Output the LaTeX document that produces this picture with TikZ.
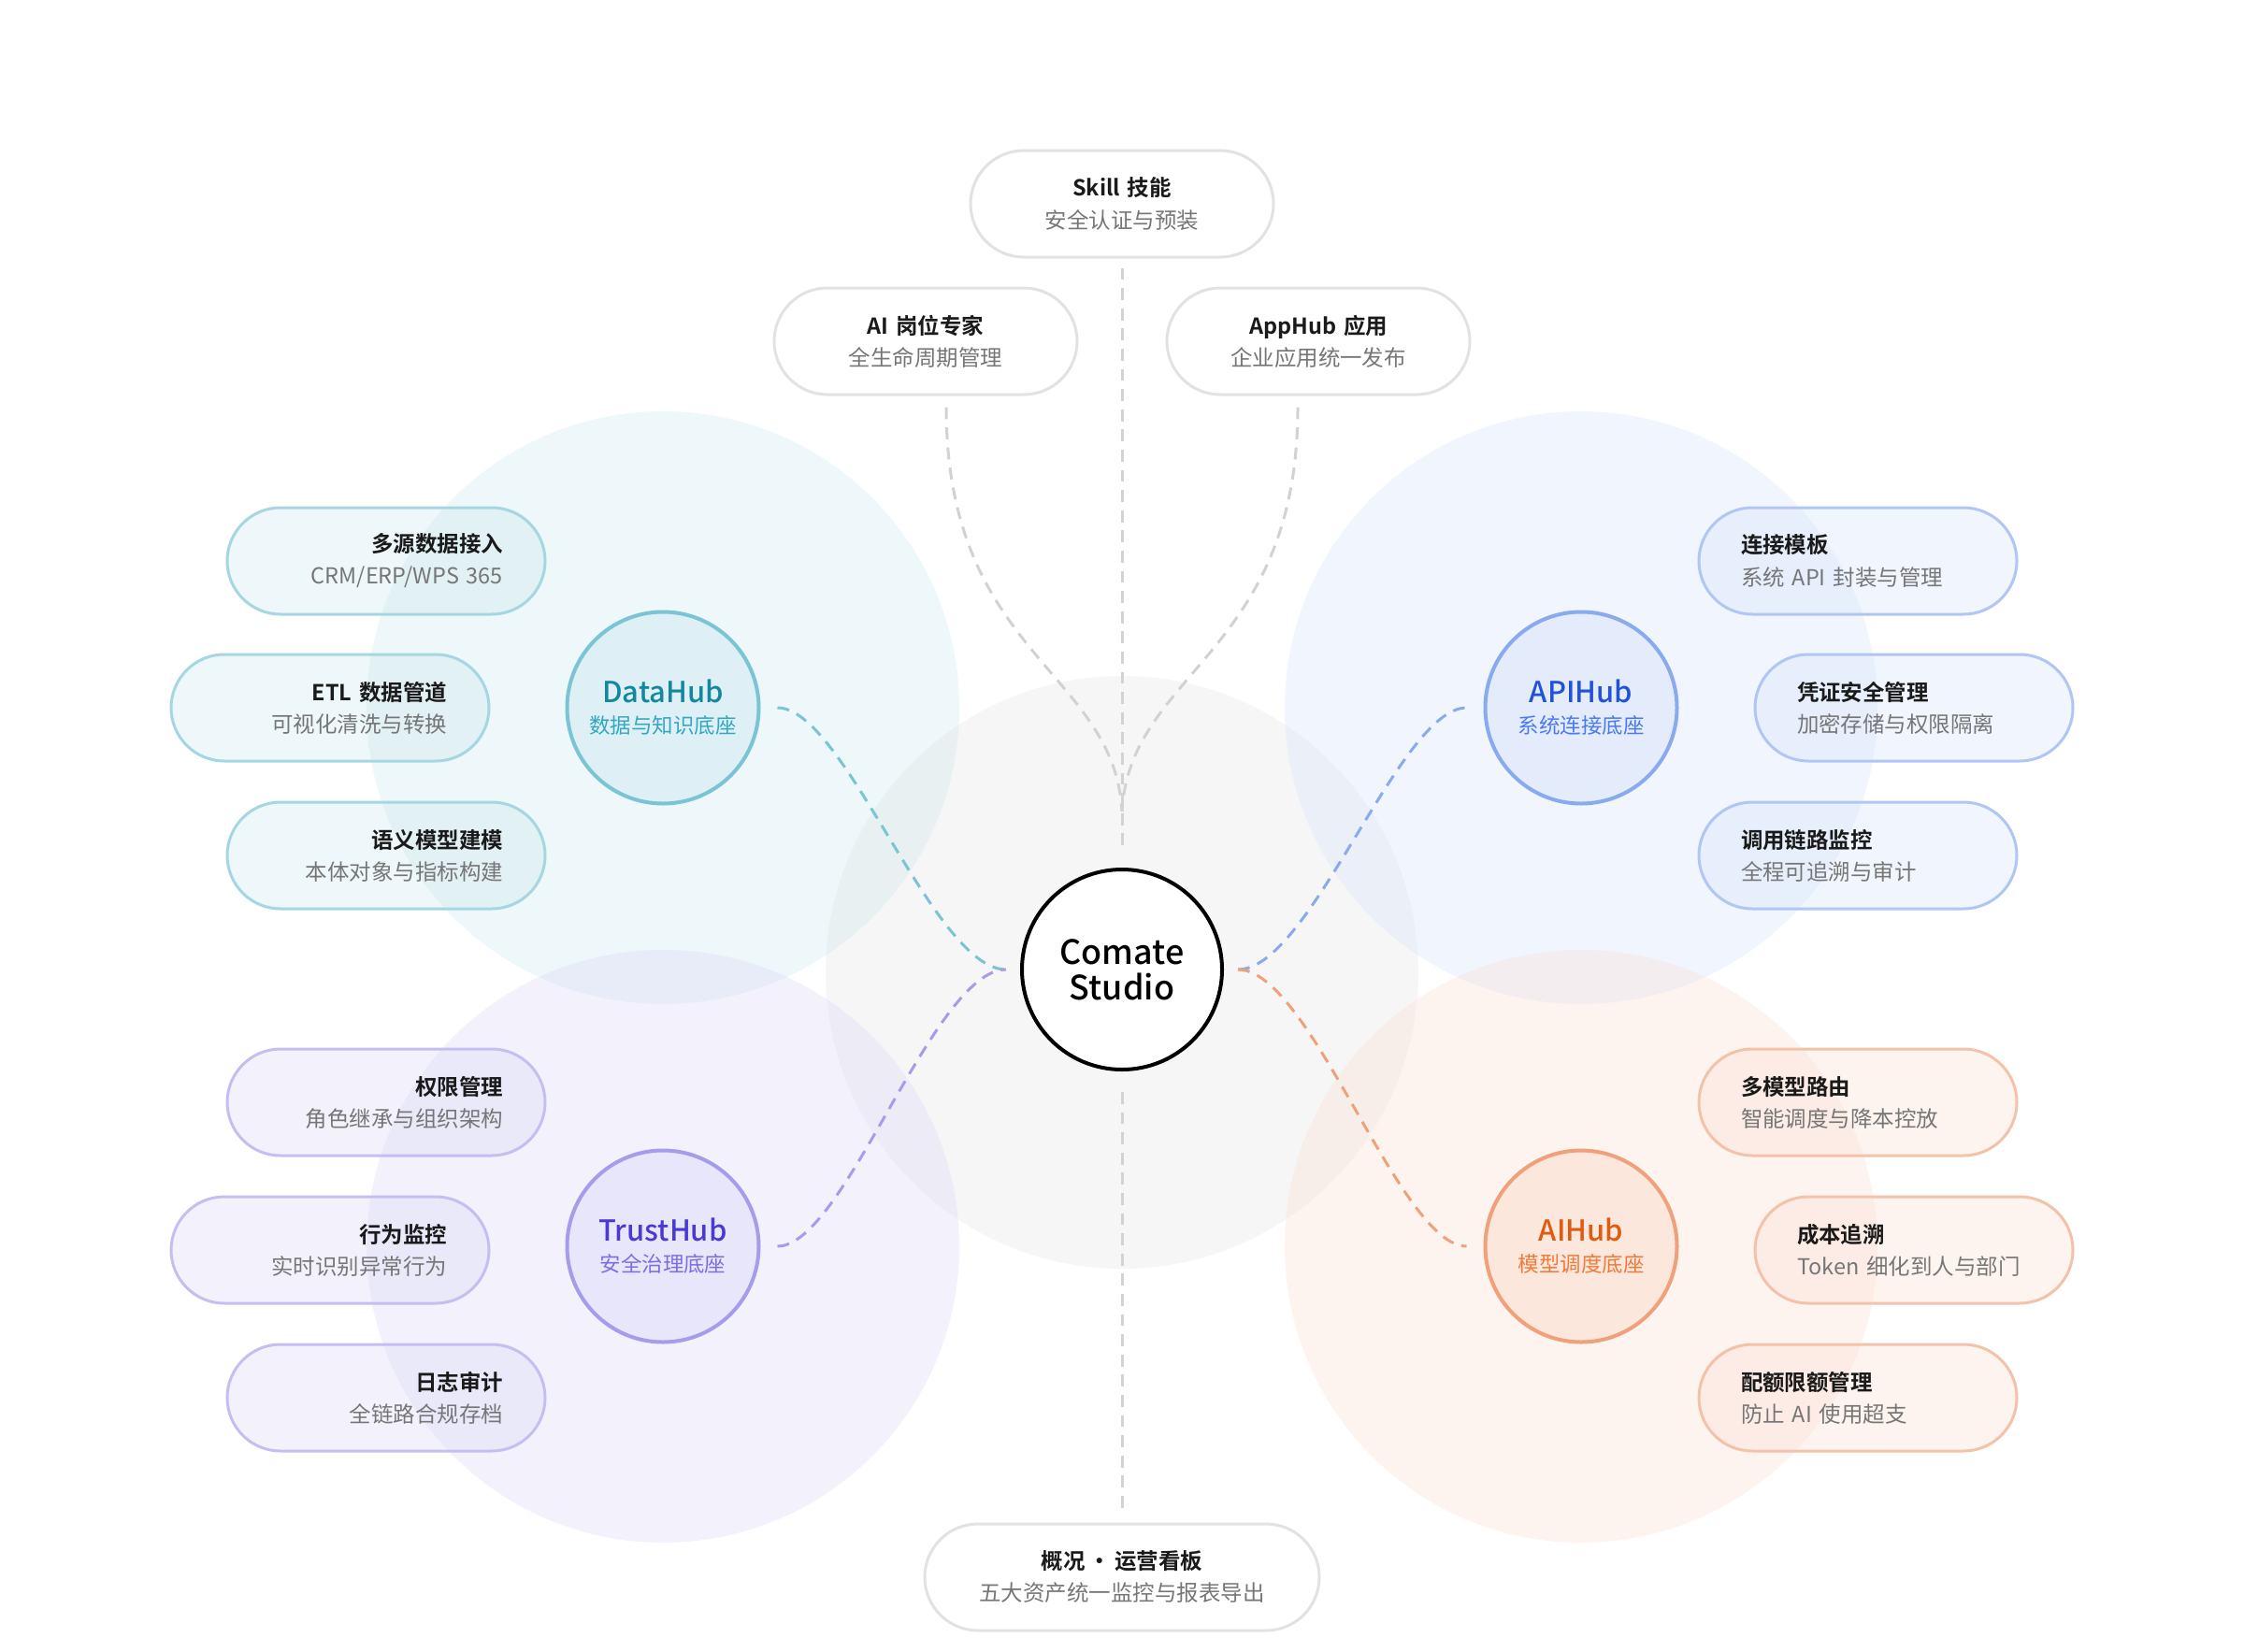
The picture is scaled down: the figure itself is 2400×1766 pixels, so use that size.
\documentclass[tikz,border=0pt]{standalone}
\usepackage{fontspec}
\setmainfont{Noto Sans CJK SC}[BoldFont={Noto Sans CJK SC Bold}]
\newfontfamily\mediumfont{Noto Sans CJK SC Medium}
\usepackage{xcolor}
\definecolor{cardtitle}{RGB}{26,26,26}
\definecolor{cardsub}{RGB}{118,118,118}
\definecolor{boxgray}{RGB}{226,226,226}
\definecolor{linkgray}{RGB}{210,210,210}
\definecolor{midbg}{RGB}{220,220,220}
\definecolor{databg}{RGB}{191,225,233}
\definecolor{apibg}{RGB}{203,219,251}
\definecolor{trustbg}{RGB}{211,207,247}
\definecolor{aibg}{RGB}{251,215,199}
\definecolor{dataedge}{RGB}{122,196,212}
\definecolor{apiedge}{RGB}{138,170,240}
\definecolor{trustedge}{RGB}{165,156,238}
\definecolor{aiedge}{RGB}{240,160,122}
\definecolor{databox}{RGB}{165,214,226}
\definecolor{apibox}{RGB}{176,198,244}
\definecolor{trustbox}{RGB}{196,191,240}
\definecolor{aibox}{RGB}{242,194,170}
\definecolor{datafill}{RGB}{222,240,245}
\definecolor{apifill}{RGB}{228,236,252}
\definecolor{trustfill}{RGB}{232,230,250}
\definecolor{aifill}{RGB}{252,231,221}
\definecolor{datatitle}{RGB}{18,136,160}
\definecolor{datasub}{RGB}{50,168,192}
\definecolor{apititle}{RGB}{33,82,217}
\definecolor{apisub}{RGB}{74,122,240}
\definecolor{trusttitle}{RGB}{74,58,212}
\definecolor{trustsub}{RGB}{122,110,232}
\definecolor{aititle}{RGB}{224,90,16}
\definecolor{aisub}{RGB}{240,122,58}
\newcommand{\cardtext}[2]{{\bfseries\color{cardtitle}#1}\\{\color{cardsub}#2}}
\newcommand{\hubtext}[4]{{\mediumfont\fontsize{22}{23.5}\selectfont\color{#3}#1}\\{\color{#4}#2}}

\begin{document}
\begin{tikzpicture}[x=0.25mm,y=0.25mm,
    card/.style={draw, line width=0.75mm, rounded corners=14.25mm, minimum height=28.5mm,
      inner xsep=11.25mm, inner ysep=0pt, text width=62.5mm, text opacity=1,
      font=\fontsize{16.7}{24.2}\selectfont},
    graycard/.style={card, align=center, text width=58.5mm, draw=boxgray, fill=white},
    datacard/.style={card, align=right, draw=databox, fill=databg, fill opacity=0.25},
    trustcard/.style={card, align=right, draw=trustbox, fill=trustbg, fill opacity=0.25},
    apicard/.style={card, align=left, draw=apibox, fill=apibg, fill opacity=0.25},
    aicard/.style={card, align=left, draw=aibox, fill=aibg, fill opacity=0.25},
    hub/.style={circle, line width=1mm, minimum size=51.25mm, inner sep=0pt, align=center,
      font=\fontsize{16}{23.5}\selectfont},
    link/.style={line width=0.75mm, dash pattern=on 3.2mm off 2.2mm},
  ]
    % Page and background discs
    \useasboundingbox (0,0) rectangle (2400,-1766);
    \fill[white] (0,0) rectangle (2400,-1766);
    \fill[midbg, fill opacity=0.25] (1200,-1040) circle[radius=79.25mm];
    \fill[databg, fill opacity=0.25] (709,-757) circle[radius=79.25mm];
    \fill[apibg, fill opacity=0.25] (1691,-757) circle[radius=79.25mm];
    \fill[trustbg, fill opacity=0.25] (709,-1333) circle[radius=79.25mm];
    \fill[aibg, fill opacity=0.25] (1691,-1333) circle[radius=79.25mm];
    % Centre
    \node[circle, draw=black, fill=white, line width=1mm, minimum size=53.5mm, inner sep=0pt,
      align=center, font=\mediumfont\fontsize{25.5}{27}\selectfont] (studio) at (1200,-1037) {Comate\\Studio};
    % Hubs
    \node[hub, draw=dataedge, fill=datafill] (data) at (709,-757)
      {\hubtext{DataHub}{数据与知识底座}{datatitle}{datasub}};
    \node[hub, draw=apiedge, fill=apifill] (api) at (1691,-757)
      {\hubtext{APIHub}{系统连接底座}{apititle}{apisub}};
    \node[hub, draw=trustedge, fill=trustfill] (trust) at (709,-1333)
      {\hubtext{TrustHub}{安全治理底座}{trusttitle}{trustsub}};
    \node[hub, draw=aiedge, fill=aifill] (aihub) at (1691,-1333)
      {\hubtext{AIHub}{模型调度底座}{aititle}{aisub}};
    % Top and bottom cards
    \node[graycard] (skill) at (1200,-218) {\cardtext{Skill 技能}{安全认证与预装}};
    \node[graycard] (expert) at (990,-365) {\cardtext{AI 岗位专家}{全生命周期管理}};
    \node[graycard] (apphub) at (1410,-365) {\cardtext{AppHub 应用}{企业应用统一发布}};
    \node[graycard, text width=83mm] (overview) at (1200,-1687)
      {\cardtext{概况\,·\,运营看板}{五大资产统一监控与报表导出}};
    % DataHub cards
    \node[datacard] (ingest) at (413,-600) {\cardtext{多源数据接入}{CRM/ERP/WPS 365}};
    \node[datacard] (etl) at (353,-757) {\cardtext{ETL 数据管道}{可视化清洗与转换}};
    \node[datacard] (semantic) at (413,-915) {\cardtext{语义模型建模}{本体对象与指标构建}};
    % TrustHub cards
    \node[trustcard] (perm) at (413,-1179) {\cardtext{权限管理}{角色继承与组织架构}};
    \node[trustcard] (behave) at (353,-1337) {\cardtext{行为监控}{实时识别异常行为}};
    \node[trustcard] (audit) at (413,-1495) {\cardtext{日志审计}{全链路合规存档}};
    % APIHub cards
    \node[apicard] (tmpl) at (1987,-600) {\cardtext{连接模板}{系统 API 封装与管理}};
    \node[apicard] (cred) at (2047,-757) {\cardtext{凭证安全管理}{加密存储与权限隔离}};
    \node[apicard] (trace) at (1987,-915) {\cardtext{调用链路监控}{全程可追溯与审计}};
    % AIHub cards
    \node[aicard] (route) at (1987,-1179) {\cardtext{多模型路由}{智能调度与降本控放}};
    \node[aicard] (cost) at (2047,-1337) {\cardtext{成本追溯}{Token 细化到人与部门}};
    \node[aicard] (quota) at (1987,-1495) {\cardtext{配额限额管理}{防止 AI 使用超支}};
    % Connectors
    \draw[link, linkgray] ([yshift=-2.5mm]skill.south) -- ([yshift=5.75mm]studio.north);
    \draw[link, linkgray] ([shift={(5.5mm,-3mm)}]expert.south)
      .. controls +(0,-66mm) and +(-2mm,37.5mm) .. ([yshift=15mm]studio.north);
    \draw[link, linkgray] ([shift={(-5.5mm,-3mm)}]apphub.south)
      .. controls +(0,-66mm) and +(2mm,37.5mm) .. ([yshift=15mm]studio.north);
    \draw[link, linkgray] ([yshift=-5.5mm]studio.south) -- ([yshift=2mm]overview.north);
    \draw[link, dataedge] ([xshift=4.5mm]data.east)
      .. controls +(18mm,0) and +(-19.5mm,0) .. ([xshift=-3.75mm]studio.west);
    \draw[link, trustedge] ([xshift=4.5mm]trust.east)
      .. controls +(18mm,0) and +(-19.5mm,0) .. ([xshift=-3.75mm]studio.west);
    \draw[link, apiedge] ([xshift=3.75mm]studio.east)
      .. controls +(19.5mm,0) and +(-18mm,0) .. ([xshift=-4.5mm]api.west);
    \draw[link, aiedge] ([xshift=3.75mm]studio.east)
      .. controls +(19.5mm,0) and +(-18mm,0) .. ([xshift=-4.5mm]aihub.west);
  \end{tikzpicture}
\end{document}
